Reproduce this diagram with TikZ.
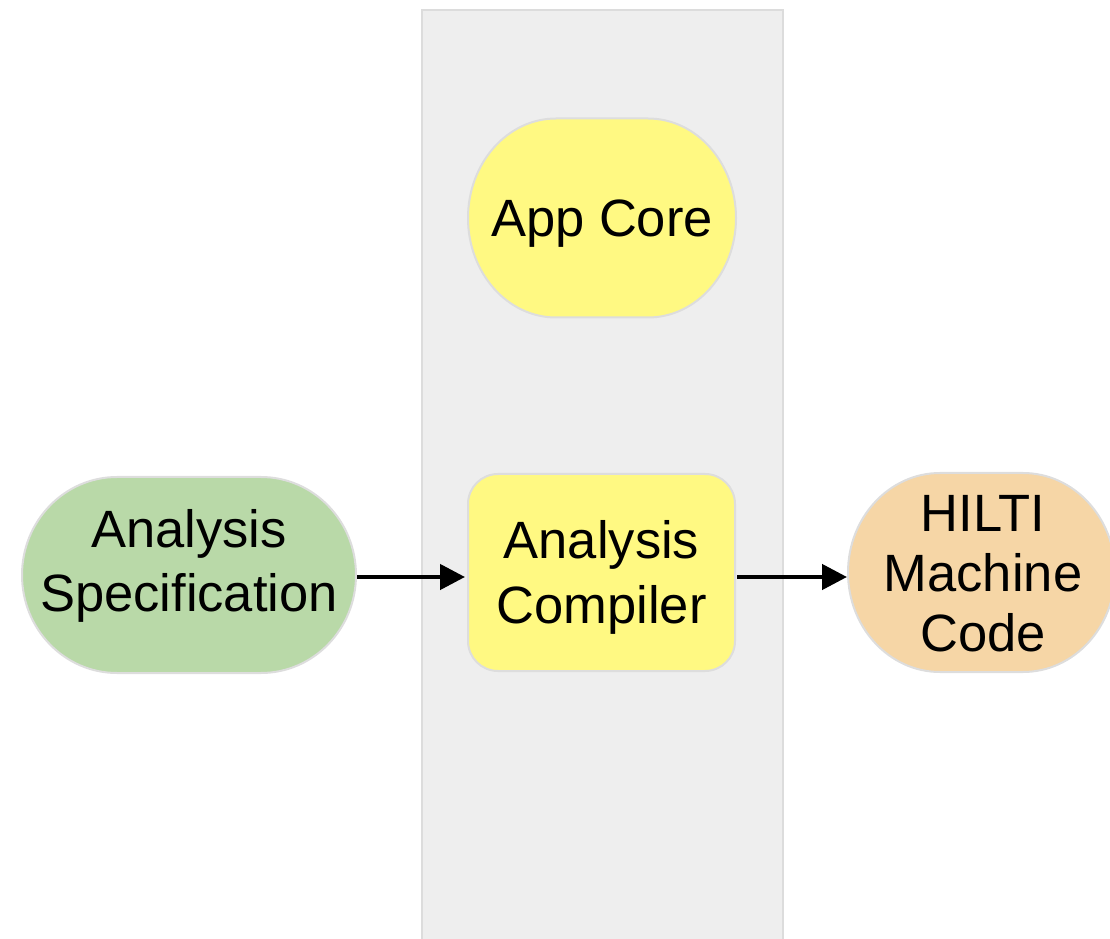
\documentclass[tikz,border=0pt]{standalone}
\usepackage{fontspec}
\setmainfont{Liberation Sans}
\usetikzlibrary{arrows.meta}

\definecolor{bandfill}{HTML}{EEEEEE}
\definecolor{bandline}{HTML}{DCDCDC}
\definecolor{shapeline}{HTML}{DDDDDD}
\definecolor{coreyellow}{HTML}{FFF982}
\definecolor{specgreen}{HTML}{B9D9A8}
\definecolor{codeorange}{HTML}{F6D6A6}

% Rounded block with elliptical ends: #1 node name, #2 corner x radius,
% #3 half height, #4 fill colour
\newcommand{\ovalblock}[4]{%
  \filldraw[fill=#4, draw=shapeline, line width=2pt]
    ([xshift=#2]#1.north west) -- ([xshift=-#2]#1.north east)
    arc[start angle=90, end angle=-90, x radius=#2, y radius=#3]
    -- ([xshift=#2]#1.south west)
    arc[start angle=270, end angle=90, x radius=#2, y radius=#3]
    -- cycle;}

\begin{document}
\begin{tikzpicture}[x=1pt, y=1pt,
    geom/.style={rectangle, draw=none, inner sep=0pt, outer sep=0pt},
    label text/.style={font=\fontsize{52.5}{64}\selectfont, align=center,
      text=black, inner sep=0pt},
    flow/.style={line width=4.5pt, draw=black,
      -{Triangle[length=25pt, width=25pt]}}]

  \useasboundingbox (0,0) rectangle (1110,938);
  \clip (0,0) rectangle (1110,938);

  % grey column behind the compiler stage
  \filldraw[fill=bandfill, draw=bandline, line width=2pt]
    (422,-5) rectangle (783,928);

  % block outlines (geometry only)
  \node[geom, minimum width=268pt, minimum height=199pt] (core) at (602,720) {};
  \node[geom, minimum width=334pt, minimum height=196pt] (spec) at (189,363) {};
  \node[geom, minimum width=267pt, minimum height=197pt] (comp) at (601.5,365.5) {};
  \node[geom, minimum width=267pt, minimum height=199pt] (code) at (981.5,365.5) {};

  \ovalblock{core}{88pt}{99.5pt}{coreyellow}
  \ovalblock{spec}{95pt}{98pt}{specgreen}
  \ovalblock{code}{92pt}{99.5pt}{codeorange}
  \filldraw[fill=coreyellow, draw=shapeline, line width=2pt, rounded corners=30pt]
    (comp.south west) rectangle (comp.north east);

  % labels
  \node[label text] (coretext) at (602,714) {App Core};
  \node[label text] (spectext) at (189,372) {Analysis\\Specification};
  \node[label text, font=\fontsize{52.5}{65}\selectfont] (comptext)
    at (601.5,361) {Analysis\\Compiler};
  \node[label text, font=\fontsize{52.5}{60}\selectfont] (codetext) at (983,364)
    {HILTI\\Machine\\Code};

  % data flow
  \draw[flow, shorten <=1pt, shorten >=3pt]
    ([yshift=-2pt]spec.east) -- ([yshift=-2pt]spec.east -| comp.west);
  \draw[flow, shorten <=2pt, shorten >=1pt]
    ([yshift=-4.5pt]comp.east) -- ([yshift=-4.5pt]comp.east -| code.west);
\end{tikzpicture}
\end{document}
